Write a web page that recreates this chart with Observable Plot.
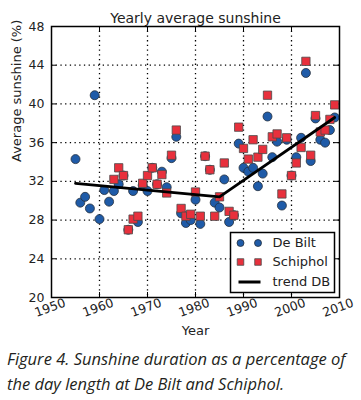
<!DOCTYPE html>
<html><head><meta charset="utf-8">
<script src="https://cdn.jsdelivr.net/npm/d3@7"></script>
<script src="https://cdn.jsdelivr.net/npm/@observablehq/plot@0.6"></script>
<style>
body{margin:0;background:#fff;}
#chart{width:361px;}
.caption{font-family:"Open Sans",sans-serif;font-style:italic;font-size:16.5px;line-height:25px;color:#231f20;margin:4px 0 0 7px;white-space:nowrap;}
</style></head><body><div id="chart"></div>
<script>
const title = "Yearly average sunshine";
const xLabel = "Year";
const yLabel = "Average sunshine (%)";
const captionLines = ["Figure 4. Sunshine duration as a percentage of", "the day length at De Bilt and Schiphol."];
const xTicks = [1950, 1960, 1970, 1980, 1990, 2000, 2010];
const yTicks = [20, 24, 28, 32, 36, 40, 44, 48];

const debiltYears = d3.range(1955, 2010);
const debiltValues = [34.3, 29.8, 30.4, 29.2, 40.9, 28.1, 31.1, 29.9, 31.0, 31.7,
  32.6, 27.0, 31.0, 27.8, 31.6, 31.0, 33.4, 31.7, 33.0, 31.4,
  34.4, 36.6, 28.7, 27.7, 28.0, 30.1, 27.6, 34.6, 33.2, 29.8,
  29.3, 32.2, 27.8, 28.5, 35.9, 33.4, 33.0, 33.4, 31.5, 32.8,
  38.7, 34.5, 36.1, 29.5, 36.3, 32.6, 34.5, 36.5, 43.2, 34.1,
  38.5, 36.3, 36.0, 37.3, 38.6];
const schipholYears = d3.range(1963, 2010);
const schipholValues = [32.2, 33.4, 32.6, 27.0, 28.1, 28.4, 31.8, 32.6, 33.4, 31.7,
  32.7, 30.8, 34.7, 37.3, 29.2, 28.4, 28.6, 30.9, 28.4, 34.6,
  33.2, 28.4, 30.4, 33.9, 28.9, 28.5, 37.6, 35.4, 34.3, 36.3,
  34.5, 35.3, 40.9, 36.6, 36.9, 30.7, 36.5, 32.6, 33.9, 35.5,
  44.4, 34.7, 38.8, 37.1, 37.3, 38.4, 39.9];
const trendYears = [1955, 1985, 2009];
const trendValues = [31.8, 30.4, 38.6];
const seriesNames = ["De Bilt", "Schiphol", "trend DB"];

const blueFill = "#1f5ba8", redFill = "#e8303c";

const debilt = debiltYears.map((y, i) => ({year: y, value: debiltValues[i]}));
const schiphol = schipholYears.map((y, i) => ({year: y, value: schipholValues[i]}));
const trend = trendYears.map((y, i) => ({year: y, value: trendValues[i]}));

const W = 361, H = 342, mT = 26, mL = 51, mR = 22, mB = 45;
const fw = W - mL - mR, fh = H - mT - mB;   // frame size
const tk = 5;                                 // inward tick length
const gridX = xTicks.slice(1, -1), gridY = yTicks.slice(1, -1);

// legend geometry, relative to the frame's bottom-right corner
const lgBox = {left: 109, top: 65, right: 5, bottom: 5};
const lgRows = [54.5, 35.5, 15.5];
const lgMarkX = [99, 81.5];
const lgTextX = 67;
const legendDots = [];
lgMarkX.forEach(dx => {
  legendDots.push({dx, dy: lgRows[0], symbol: "circle", fill: blueFill, stroke: "#26303c"});
  legendDots.push({dx, dy: lgRows[1], symbol: "square", fill: redFill, stroke: "#4a4a4a"});
});

const marks = [
  Plot.ruleX(gridX, {x: d => d, stroke: "#000", strokeWidth: 1.3, strokeDasharray: "1.3,3.4"}),
  Plot.ruleY(gridY, {y: d => d, stroke: "#000", strokeWidth: 1.3, strokeDasharray: "1.3,3.4"}),
  Plot.ruleX(xTicks, {x: d => d, insetTop: fh - tk, stroke: "#000", strokeWidth: 1}),
  Plot.ruleX(xTicks, {x: d => d, insetBottom: fh - tk, stroke: "#000", strokeWidth: 1}),
  Plot.ruleY(yTicks, {y: d => d, insetRight: fw - tk, stroke: "#000", strokeWidth: 1}),
  Plot.ruleY(yTicks, {y: d => d, insetLeft: fw - tk, stroke: "#000", strokeWidth: 1}),
  Plot.dot(debilt, {x: "year", y: "value", symbol: "circle", r: 4.5, fill: blueFill, stroke: "#26303c", strokeWidth: 0.8}),
  Plot.dot(schiphol, {x: "year", y: "value", symbol: "square", r: 4.7, fill: redFill, stroke: "#4a4a4a", strokeWidth: 0.8}),
  Plot.line(trend, {x: "year", y: "value", stroke: "#000", strokeWidth: 2.8}),
  Plot.frame({stroke: "#000", strokeWidth: 1.5}),
  // legend
  Plot.frame({fill: "#fff", stroke: "#000", strokeWidth: 1.5,
    insetLeft: fw - lgBox.left, insetTop: fh - lgBox.top, insetRight: lgBox.right, insetBottom: lgBox.bottom}),
  ...legendDots.map(d => Plot.dot([d], {frameAnchor: "bottom-right", dx: -d.dx, dy: -d.dy, symbol: d.symbol,
    r: d.symbol === "circle" ? 3.5 : 3.7, fill: d.fill, stroke: d.stroke, strokeWidth: 0.8})),
  Plot.frame({fill: "#000", stroke: null,
    insetLeft: fw - 101, insetRight: 79, insetTop: fh - lgRows[2] - 1.5, insetBottom: lgRows[2] - 1.5}),
  ...seriesNames.map((n, i) => Plot.text([n], {frameAnchor: "bottom-right", dx: -lgTextX, dy: -lgRows[i],
    text: d => d, textAnchor: "start", lineAnchor: "middle", fontSize: 13, fill: "#222"})),
  // axes text
  Plot.text(yTicks, {y: d => d, frameAnchor: "left", dx: -7, textAnchor: "end", text: d => String(d), fontSize: 12.5}),
  Plot.text(xTicks, {x: d => d, frameAnchor: "bottom", dy: 14, rotate: -20, text: d => String(d), fontSize: 12.5}),
  Plot.text([yLabel], {frameAnchor: "left", dx: -35, rotate: -90, text: d => d, fontSize: 13}),
  Plot.text([xLabel], {frameAnchor: "bottom", dy: 37, text: d => d, fontSize: 13}),
  Plot.text([title], {frameAnchor: "top", dy: -13, text: d => d, fontSize: 14})
];

const plot = Plot.plot({
  width: W, height: H,
  marginTop: mT, marginLeft: mL, marginRight: mR, marginBottom: mB,
  style: {fontFamily: "DejaVu Sans", fontSize: "12px", color: "#222", background: "#fff"},
  x: {domain: [xTicks[0], xTicks[xTicks.length - 1]], axis: null},
  y: {domain: [yTicks[0], yTicks[yTicks.length - 1]], axis: null},
  marks
});

document.getElementById("chart").appendChild(plot);
const cap = document.createElement("div");
cap.className = "caption";
cap.innerHTML = captionLines.join("<br>");
document.getElementById("chart").appendChild(cap);
</script>
</body></html>
